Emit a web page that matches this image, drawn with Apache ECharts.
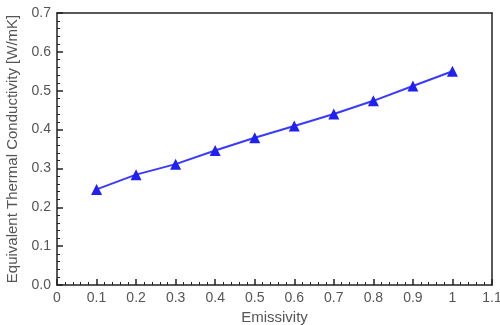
<!DOCTYPE html>
<html>
<head>
<meta charset="utf-8">
<script src="https://cdn.jsdelivr.net/npm/echarts@6/dist/echarts.min.js"></script>
<style>html,body{margin:0;padding:0;background:#fff}#c{width:500px;height:325px}</style>
</head>
<body>
<div id="c"></div>
<script>
const emissivity = [0.1, 0.2, 0.3, 0.4, 0.5, 0.6, 0.7, 0.8, 0.9, 1.0];
const conductivity = [0.246, 0.284, 0.311, 0.346, 0.379, 0.409, 0.440, 0.474, 0.512, 0.550];
const xTitle = 'Emissivity';
const yTitle = 'Equivalent Thermal Conductivity [W/mK]';

const chart = echarts.init(document.getElementById('c'), null, {renderer: 'canvas'});
const font = 'Liberation Sans, Arial, sans-serif';
const labelColor = '#555';
const lineColor = '#222';
const frameAxis = {
  axisLine: {show: true, onZero: false, lineStyle: {color: lineColor, width: 1.5}},
  axisTick: {show: false}, axisLabel: {show: false}, splitLine: {show: false}
};
chart.setOption({
  animation: false,
  grid: {left: 57, right: 8, top: 13, bottom: 40, containLabel: false, outerBoundsMode: 'none'},
  xAxis: [{
    type: 'value', min: 0, max: 1.1, interval: 0.1,
    name: xTitle, nameLocation: 'middle', nameGap: 23,
    nameTextStyle: {color: labelColor, fontFamily: font, fontSize: 15},
    axisLine: {show: true, onZero: false, lineStyle: {color: lineColor, width: 1.5}},
    axisTick: {show: true, inside: true, length: 6, lineStyle: {color: lineColor, width: 1.5}},
    minorTick: {show: true, splitNumber: 5, length: 3, lineStyle: {color: lineColor, width: 1}},
    axisLabel: {color: labelColor, fontFamily: font, fontSize: 14, margin: 6,
      formatter: v => String(Math.round(v * 10) / 10)},
    splitLine: {show: false}
  }, Object.assign({type: 'value', position: 'top', min: 0, max: 1.1}, frameAxis)],
  yAxis: [{
    type: 'value', min: 0, max: 0.7, interval: 0.1,
    name: yTitle, nameLocation: 'middle', nameGap: 34,
    nameTextStyle: {color: labelColor, fontFamily: font, fontSize: 15},
    axisLine: {show: true, onZero: false, lineStyle: {color: lineColor, width: 1.5}},
    axisTick: {show: true, inside: true, length: 6, lineStyle: {color: lineColor, width: 1.5}},
    minorTick: {show: true, splitNumber: 5, length: 3, lineStyle: {color: lineColor, width: 1}},
    axisLabel: {color: labelColor, fontFamily: font, fontSize: 14, margin: 6,
      formatter: v => (Math.round(v * 10) / 10).toFixed(1)},
    splitLine: {show: false}
  }, Object.assign({type: 'value', position: 'right', min: 0, max: 0.7}, frameAxis)],
  series: [{
    type: 'line',
    data: emissivity.map((x, i) => [x, conductivity[i]]),
    symbol: 'triangle', symbolSize: 11,
    itemStyle: {color: '#2020f0'},
    lineStyle: {color: '#3a3aff', width: 2}
  }]
});
</script>
</body>
</html>
